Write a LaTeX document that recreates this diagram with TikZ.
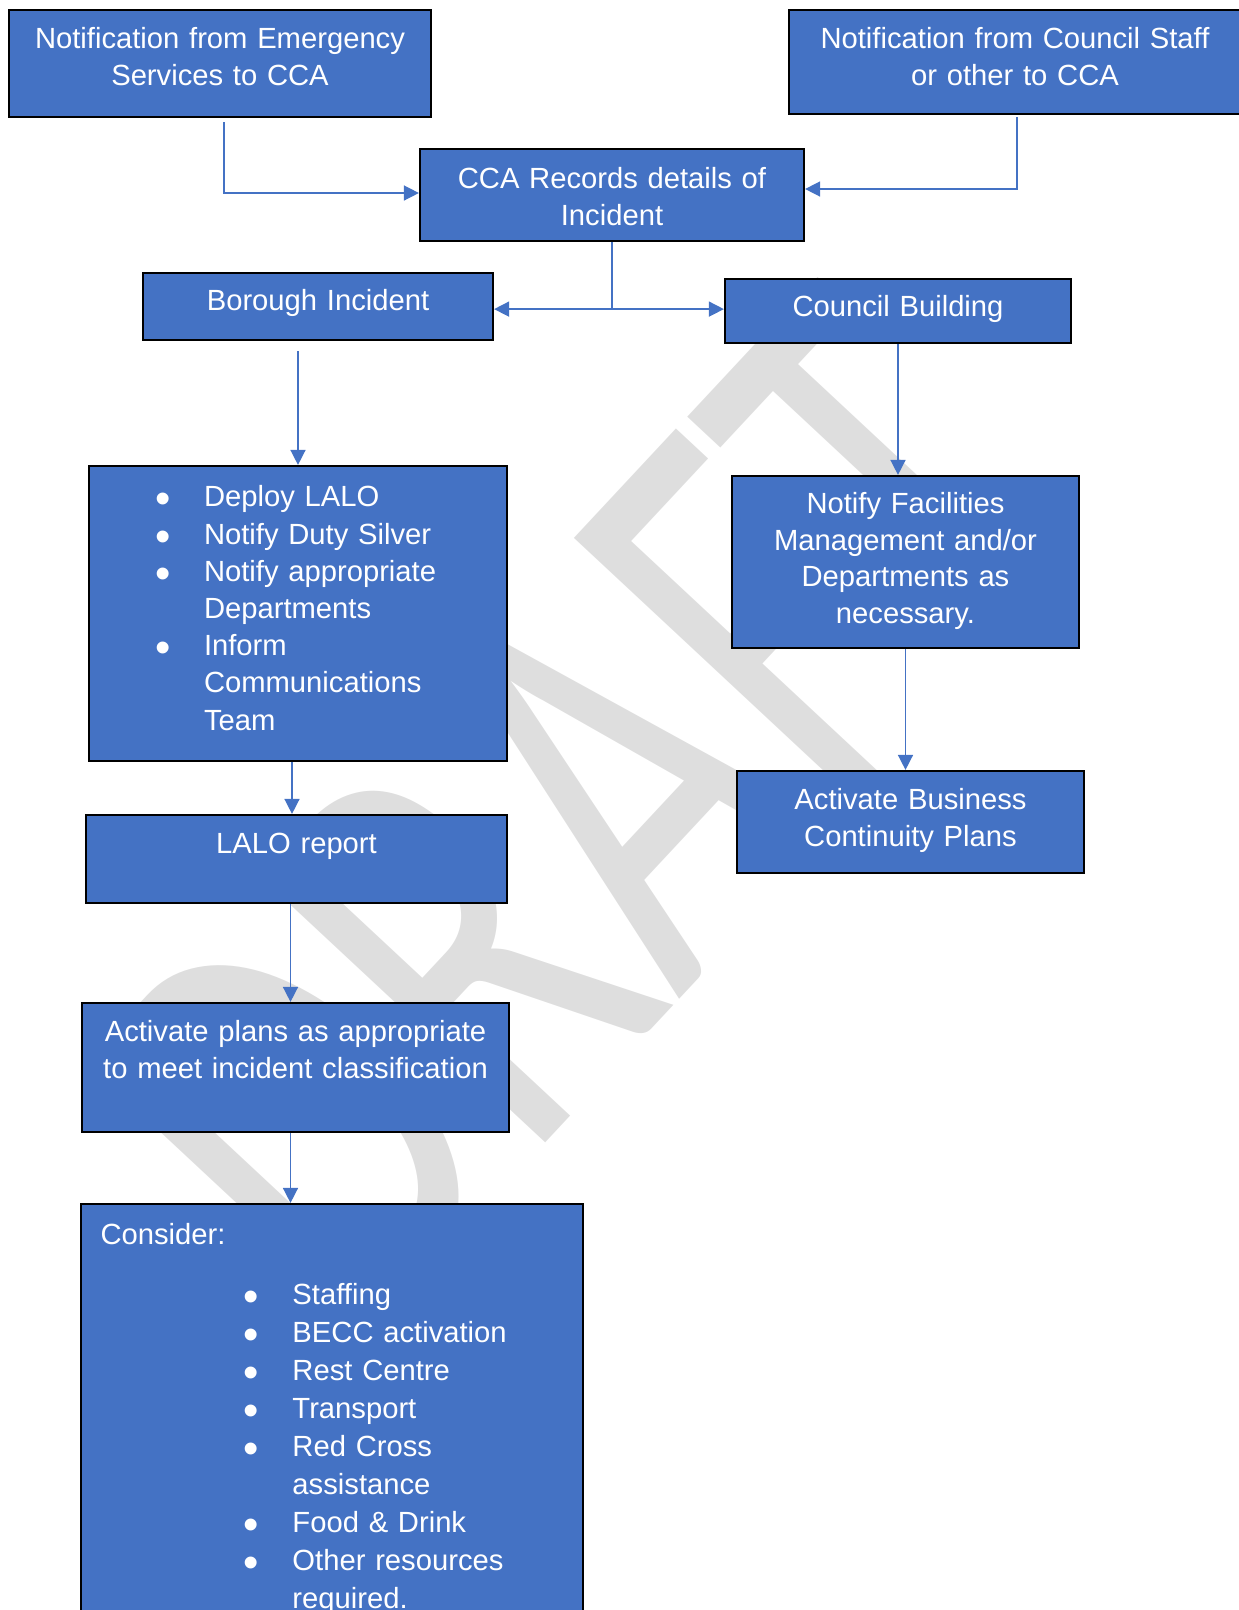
\documentclass[tikz,border=0pt]{standalone}
\usepackage{graphicx}
\usepackage{fontspec}
\setmainfont{Liberation Sans}
\newfontfamily\wmfont{Carlito}
\usetikzlibrary{arrows.meta,calc}
\definecolor{cblue}{RGB}{68,114,196}
\definecolor{wmgray}{RGB}{222,222,222}
\newcommand{\bul}{\makebox[48.5pt][l]{\raisebox{-7pt}{\scalebox{1.5}{\textbullet}}}}
\tikzset{
  box/.style={draw=black, line width=2.2pt, fill=cblue, text=white, inner sep=0pt, anchor=base,
    font=\fontsize{29.2pt}{36.6pt}\selectfont},
  cbox/.style={box, align=center},                                 % centred text
  lbox/.style={box, align=left, font=\fontsize{29.2pt}{37.2pt}\selectfont}, % bullet lists
  conn/.style={cblue, line width=1.5pt, -{Triangle[length=15pt,width=15pt]}},
  wmark/.style={text=wmgray, font=\wmfont\fontsize{412pt}{412pt}\selectfont,
    inner sep=0pt, anchor=base, rotate=47, yscale=1.48},           % DRAFT watermark
}

\begin{document}
\begin{tikzpicture}[x=1pt, y=-1pt]
  \useasboundingbox (0,0) rectangle (1239,1610);
  \clip (0,0) rectangle (1239,1610);
  % watermark behind everything
  \node[wmark] (draft) at (730,945) {DRAFT};
  % notifications
  \node[cbox, text width=422pt, text height=38.5pt, text depth=68.5pt] (emerg) at (220,48.5)
    {Notification from Emergency\\Services to CCA};
  \node[cbox, text width=452pt, text height=38.5pt, text depth=65.5pt] (staff) at (1015,48.5)
    {Notification from Council Staff\\or other to CCA};
  \node[cbox, text width=384pt, text height=39.5pt, text depth=52.5pt] (records) at (612,188.5)
    {CCA Records details of\\Incident};
  % two branches
  \node[cbox, text width=350pt, text height=37.5pt, text depth=29.5pt] (borough) at (318,310.5)
    {Borough Incident};
  \node[cbox, text width=346pt, text height=37.7pt, text depth=26.3pt] (building) at (898,316.7)
    {Council Building};
  \node[lbox, text width=418pt, text height=40.8pt, text depth=254.2pt] (deploy) at (298,506.8)
    {\hspace*{66.5pt}\bul Deploy LALO\\
     \hspace*{66.5pt}\bul Notify Duty Silver\\
     \hspace*{66.5pt}\bul Notify appropriate\\
     \hspace*{115pt}Departments\\
     \hspace*{66.5pt}\bul Inform\\
     \hspace*{115pt}Communications\\
     \hspace*{115pt}Team};
  \node[cbox, text width=347pt, text height=37.7pt, text depth=134.3pt] (facilities) at (905.5,513.7)
    {Notify Facilities\\Management and/or\\Departments as\\necessary.};
  \node[cbox, text width=347pt, text height=38.5pt, text depth=63.5pt] (bcp) at (910.5,809.5)
    {Activate Business\\Continuity Plans};
  \node[cbox, text width=421pt, text height=38.3pt, text depth=49.7pt] (lalo) at (296.5,853.3)
    {LALO report};
  \node[cbox, text width=427pt, text height=38.7pt, text depth=90.3pt] (plans) at (295.5,1041.7)
    {Activate plans as appropriate\\to meet incident classification};
  \node[lbox, font=\fontsize{29.2pt}{38pt}\selectfont,
        text width=502pt, text height=40pt, text depth=396pt] (consider) at (332,1244)
    {\hspace*{19.5pt}Consider:\\[22pt]
     \hspace*{163pt}\bul Staffing\\
     \hspace*{163pt}\bul BECC activation\\
     \hspace*{163pt}\bul Rest Centre\\
     \hspace*{163pt}\bul Transport\\
     \hspace*{163pt}\bul Red Cross\\
     \hspace*{211.5pt}assistance\\
     \hspace*{163pt}\bul Food \& Drink\\
     \hspace*{163pt}\bul Other resources\\
     \hspace*{211.5pt}required.};
  % connectors
  \draw[conn] ($(emerg.south)+(4,4)$) |- ($(records.west)+(0,-2)$);
  \draw[conn] ($(staff.south)+(2,2)$) |- ($(records.east)+(0,-6)$);
  \coordinate (split) at ($(records.south)+(0,67)$);
  \draw[cblue, line width=1.5pt] (records.south) -- (split);
  \draw[conn] (split) -- (split -| borough.east);
  \draw[conn] (split) -- (split -| building.west);
  \draw[conn, shorten <=10pt] (borough.south -| deploy.north) -- (deploy.north);
  \draw[conn] (building.south) -- (building.south |- facilities.north);
  \draw[conn] (facilities.south) -- (facilities.south |- bcp.north);
  \draw[conn] ($(deploy.south)+(-6,0)$) -- ($(deploy.south |- lalo.north)+(-6,0)$);
  \draw[conn] ($(lalo.south)+(-6,0)$) -- ($(lalo.south |- plans.north)+(-6,0)$);
  \draw[conn] ($(plans.south)+(-5,0)$) -- ($(plans.south |- consider.north)+(-5,0)$);
\end{tikzpicture}
\end{document}
